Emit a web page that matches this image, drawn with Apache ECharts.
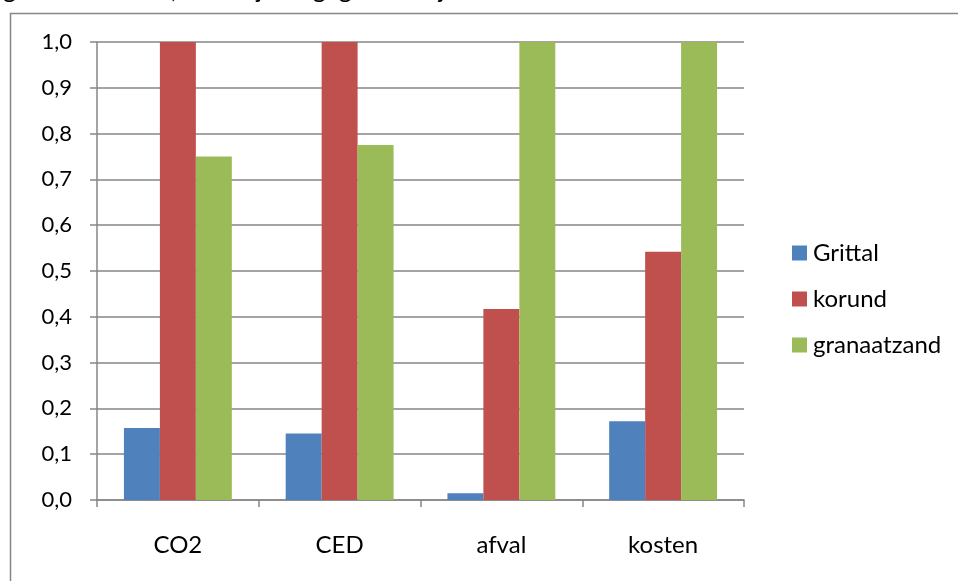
<!DOCTYPE html>
<html>
<head>
<meta charset="utf-8">
<script src="https://cdn.jsdelivr.net/npm/echarts@6/dist/echarts.min.js"></script>
<style>html,body{margin:0;padding:0;background:#fff}#c{width:958px;height:581px}</style>
</head>
<body>
<div id="c"></div>
<script>
const categories = ['CO2', 'CED', 'afval', 'kosten'];
const grittal = [0.157, 0.145, 0.015, 0.172];
const korund = [1.0, 1.0, 0.417, 0.542];
const granaatzand = [0.75, 0.775, 1.0, 1.0];
const seriesNames = ['Grittal', 'korund', 'granaatzand'];
const headerText = 'genormaliseerd, waarbij alle gegevens zijn herleid';

const FONT = 'Lato';
const chart = echarts.init(document.getElementById('c'), null, {renderer: 'canvas'});
const gridColor = '#868686';
chart.setOption({
  animation: false,
  backgroundColor: '#fff',
  textStyle: {fontFamily: FONT},
  graphic: [
    {type: 'rect', shape: {x: 10.5, y: 13.5, width: 1200, height: 1000}, style: {fill: 'none', stroke: gridColor, lineWidth: 1.5}, silent: true},
    {type: 'text', x: 3, y: 2, style: {text: headerText, font: '25px ' + FONT, fill: '#000', verticalAlign: 'bottom', align: 'left'}}
  ],
  grid: {left: 97, right: 214, top: 42, bottom: 81, containLabel: false},
  legend: {
    orient: 'vertical', left: 787, top: 236, itemWidth: 15, itemHeight: 15, itemGap: 22,
    icon: 'rect', data: seriesNames,
    textStyle: {fontSize: 24, color: '#000', fontFamily: FONT, padding: [0, 0, 0, 1]}
  },
  xAxis: {
    type: 'category', data: categories,
    axisLine: {lineStyle: {color: gridColor, width: 1.5}},
    axisTick: {show: true, length: 7, lineStyle: {color: gridColor, width: 1.5}},
    axisLabel: {fontSize: 24, color: '#000', margin: 33, fontFamily: FONT}
  },
  yAxis: {
    type: 'value', min: 0, max: 1, interval: 0.1,
    axisLine: {show: true, lineStyle: {color: gridColor, width: 1.5}},
    axisTick: {show: true, length: 7, lineStyle: {color: gridColor, width: 1.5}},
    splitLine: {lineStyle: {color: gridColor, width: 1.5}},
    axisLabel: {fontSize: 22, color: '#000', margin: 25, fontFamily: FONT,
      formatter: v => v.toFixed(1).replace('.', ',')}
  },
  series: [
    {name: seriesNames[0], type: 'bar', data: grittal, barGap: '0%', barCategoryGap: '33.3%', itemStyle: {color: '#4F81BD'}},
    {name: seriesNames[1], type: 'bar', data: korund, itemStyle: {color: '#C0504D'}},
    {name: seriesNames[2], type: 'bar', data: granaatzand, itemStyle: {color: '#9BBB59'}}
  ]
});
</script>
</body>
</html>
